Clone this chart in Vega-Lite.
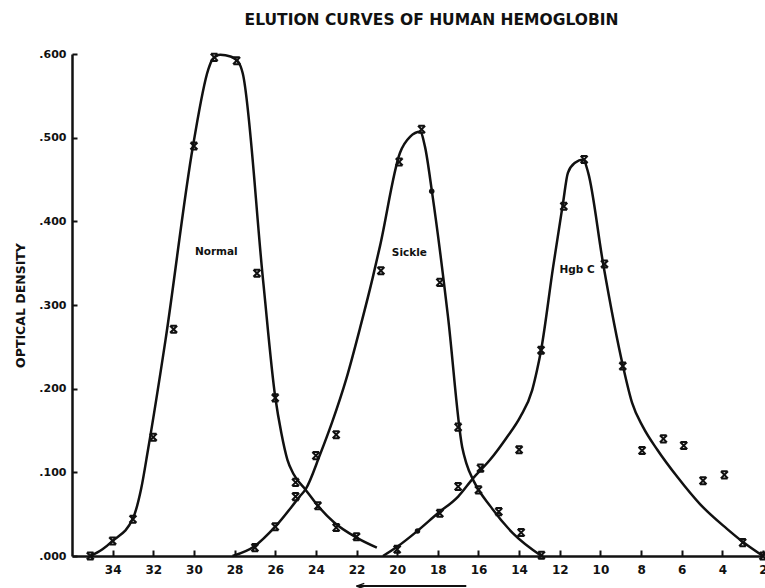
{
  "$schema": "https://vega.github.io/schema/vega-lite/v6.json",
  "width": 691,
  "height": 502,
  "autosize": {"type": "none"},
  "padding": {"left": 72, "top": 54, "right": 2, "bottom": 32},
  "background": "white",
  "config": {
    "view": {"stroke": null},
    "font": "DejaVu Sans",
    "axis": {"grid": false, "domainColor": "#111", "domainWidth": 2.5, "tickColor": "#111", "tickWidth": 2, "labelColor": "#111", "labelFont": "DejaVu Sans", "labelFontWeight": "bold", "titleFont": "DejaVu Sans", "titleFontWeight": "bold", "titleColor": "#111"}
  },
  "title": {"text": "ELUTION CURVES OF HUMAN HEMOGLOBIN", "fontSize": 15.5, "font": "DejaVu Sans", "fontWeight": "bold", "color": "#111", "offset": 20, "dx": 14},
  "datasets": {
    "curves": [
      {"series": "Normal", "x": 35.1, "y": 0},
      {"series": "Normal", "x": 34.5, "y": 0.008},
      {"series": "Normal", "x": 34, "y": 0.018},
      {"series": "Normal", "x": 33, "y": 0.045},
      {"series": "Normal", "x": 32.6, "y": 0.08},
      {"series": "Normal", "x": 32.26, "y": 0.127},
      {"series": "Normal", "x": 31.4, "y": 0.258},
      {"series": "Normal", "x": 30.04, "y": 0.491},
      {"series": "Normal", "x": 29.3, "y": 0.581},
      {"series": "Normal", "x": 29.1, "y": 0.593},
      {"series": "Normal", "x": 28.7, "y": 0.599},
      {"series": "Normal", "x": 28.2, "y": 0.597},
      {"series": "Normal", "x": 27.8, "y": 0.59},
      {"series": "Normal", "x": 27.6, "y": 0.577},
      {"series": "Normal", "x": 26.6, "y": 0.33},
      {"series": "Normal", "x": 26, "y": 0.19},
      {"series": "Normal", "x": 25.7, "y": 0.147},
      {"series": "Normal", "x": 25.4, "y": 0.115},
      {"series": "Normal", "x": 25.1, "y": 0.098},
      {"series": "Normal", "x": 24.5, "y": 0.079},
      {"series": "Normal", "x": 23.9, "y": 0.06},
      {"series": "Normal", "x": 23.1, "y": 0.04},
      {"series": "Normal", "x": 22, "y": 0.022},
      {"series": "Normal", "x": 21, "y": 0.01},
      {"series": "Sickle", "x": 28.1, "y": 0},
      {"series": "Sickle", "x": 27, "y": 0.012},
      {"series": "Sickle", "x": 26, "y": 0.035},
      {"series": "Sickle", "x": 24.8, "y": 0.071},
      {"series": "Sickle", "x": 24.5, "y": 0.08},
      {"series": "Sickle", "x": 23.8, "y": 0.121},
      {"series": "Sickle", "x": 23.2, "y": 0.16},
      {"series": "Sickle", "x": 22.5, "y": 0.212},
      {"series": "Sickle", "x": 21.8, "y": 0.275},
      {"series": "Sickle", "x": 21.2, "y": 0.333},
      {"series": "Sickle", "x": 20.84, "y": 0.371},
      {"series": "Sickle", "x": 19.86, "y": 0.482},
      {"series": "Sickle", "x": 19.37, "y": 0.501},
      {"series": "Sickle", "x": 18.87, "y": 0.507},
      {"series": "Sickle", "x": 18.63, "y": 0.489},
      {"series": "Sickle", "x": 18.28, "y": 0.434},
      {"series": "Sickle", "x": 17.5, "y": 0.286},
      {"series": "Sickle", "x": 16.8, "y": 0.13},
      {"series": "Sickle", "x": 16.6, "y": 0.111},
      {"series": "Sickle", "x": 16.2, "y": 0.088},
      {"series": "Sickle", "x": 15.4, "y": 0.059},
      {"series": "Sickle", "x": 14.3, "y": 0.027},
      {"series": "Sickle", "x": 12.9, "y": 0},
      {"series": "Hgb C", "x": 20.7, "y": 0},
      {"series": "Hgb C", "x": 20, "y": 0.011},
      {"series": "Hgb C", "x": 19, "y": 0.03},
      {"series": "Hgb C", "x": 18, "y": 0.051},
      {"series": "Hgb C", "x": 17, "y": 0.071},
      {"series": "Hgb C", "x": 16.26, "y": 0.093},
      {"series": "Hgb C", "x": 15.43, "y": 0.115},
      {"series": "Hgb C", "x": 14.6, "y": 0.142},
      {"series": "Hgb C", "x": 13.95, "y": 0.166},
      {"series": "Hgb C", "x": 13.36, "y": 0.198},
      {"series": "Hgb C", "x": 13.12, "y": 0.222},
      {"series": "Hgb C", "x": 12.92, "y": 0.246},
      {"series": "Hgb C", "x": 12.33, "y": 0.345},
      {"series": "Hgb C", "x": 11.84, "y": 0.422},
      {"series": "Hgb C", "x": 11.6, "y": 0.458},
      {"series": "Hgb C", "x": 11.25, "y": 0.47},
      {"series": "Hgb C", "x": 10.85, "y": 0.474},
      {"series": "Hgb C", "x": 10.6, "y": 0.458},
      {"series": "Hgb C", "x": 9.87, "y": 0.35},
      {"series": "Hgb C", "x": 8.88, "y": 0.226},
      {"series": "Hgb C", "x": 8.44, "y": 0.183},
      {"series": "Hgb C", "x": 7.9, "y": 0.154},
      {"series": "Hgb C", "x": 7.2, "y": 0.127},
      {"series": "Hgb C", "x": 6.2, "y": 0.094},
      {"series": "Hgb C", "x": 5.1, "y": 0.062},
      {"series": "Hgb C", "x": 3.8, "y": 0.033},
      {"series": "Hgb C", "x": 3, "y": 0.017},
      {"series": "Hgb C", "x": 2, "y": 0}
    ],
    "points": [
      {"series": "Normal", "x": 35.1, "y": 0, "kind": "x"},
      {"series": "Normal", "x": 34, "y": 0.018, "kind": "x"},
      {"series": "Normal", "x": 33, "y": 0.044, "kind": "x"},
      {"series": "Normal", "x": 32, "y": 0.142, "kind": "x"},
      {"series": "Normal", "x": 31, "y": 0.271, "kind": "x"},
      {"series": "Normal", "x": 30, "y": 0.49, "kind": "x"},
      {"series": "Normal", "x": 29, "y": 0.596, "kind": "x"},
      {"series": "Normal", "x": 27.9, "y": 0.592, "kind": "x"},
      {"series": "Normal", "x": 26.9, "y": 0.338, "kind": "x"},
      {"series": "Normal", "x": 26, "y": 0.189, "kind": "x"},
      {"series": "Normal", "x": 25, "y": 0.088, "kind": "x"},
      {"series": "Normal", "x": 23.9, "y": 0.06, "kind": "x"},
      {"series": "Normal", "x": 23, "y": 0.034, "kind": "x"},
      {"series": "Normal", "x": 22, "y": 0.023, "kind": "x"},
      {"series": "Sickle", "x": 27, "y": 0.01, "kind": "x"},
      {"series": "Sickle", "x": 26, "y": 0.035, "kind": "x"},
      {"series": "Sickle", "x": 25, "y": 0.071, "kind": "x"},
      {"series": "Sickle", "x": 24, "y": 0.12, "kind": "x"},
      {"series": "Sickle", "x": 23, "y": 0.145, "kind": "x"},
      {"series": "Sickle", "x": 20.8, "y": 0.341, "kind": "x"},
      {"series": "Sickle", "x": 19.9, "y": 0.471, "kind": "x"},
      {"series": "Sickle", "x": 18.8, "y": 0.51, "kind": "x"},
      {"series": "Sickle", "x": 18.3, "y": 0.436, "kind": "dot"},
      {"series": "Sickle", "x": 17.9, "y": 0.327, "kind": "x"},
      {"series": "Sickle", "x": 17, "y": 0.154, "kind": "x"},
      {"series": "Sickle", "x": 16, "y": 0.079, "kind": "x"},
      {"series": "Sickle", "x": 15, "y": 0.053, "kind": "x"},
      {"series": "Sickle", "x": 13.9, "y": 0.028, "kind": "x"},
      {"series": "Sickle", "x": 12.9, "y": 0.001, "kind": "x"},
      {"series": "Hgb C", "x": 20, "y": 0.008, "kind": "x"},
      {"series": "Hgb C", "x": 19, "y": 0.03, "kind": "dot"},
      {"series": "Hgb C", "x": 17.9, "y": 0.051, "kind": "x"},
      {"series": "Hgb C", "x": 17, "y": 0.083, "kind": "x"},
      {"series": "Hgb C", "x": 15.9, "y": 0.105, "kind": "x"},
      {"series": "Hgb C", "x": 14, "y": 0.127, "kind": "x"},
      {"series": "Hgb C", "x": 12.92, "y": 0.246, "kind": "x"},
      {"series": "Hgb C", "x": 11.8, "y": 0.418, "kind": "x"},
      {"series": "Hgb C", "x": 10.8, "y": 0.474, "kind": "x"},
      {"series": "Hgb C", "x": 9.8, "y": 0.349, "kind": "x"},
      {"series": "Hgb C", "x": 8.9, "y": 0.227, "kind": "x"},
      {"series": "Hgb C", "x": 7.95, "y": 0.126, "kind": "x"},
      {"series": "Hgb C", "x": 6.9, "y": 0.14, "kind": "x"},
      {"series": "Hgb C", "x": 5.9, "y": 0.132, "kind": "x"},
      {"series": "Hgb C", "x": 4.95, "y": 0.09, "kind": "x"},
      {"series": "Hgb C", "x": 3.9, "y": 0.097, "kind": "x"},
      {"series": "Hgb C", "x": 3, "y": 0.016, "kind": "x"},
      {"series": "Hgb C", "x": 2, "y": 0, "kind": "x"}
    ],
    "labels": [
      {"label": "Normal", "x": 28.9, "y": 0.363},
      {"label": "Sickle", "x": 19.4, "y": 0.362},
      {"label": "Hgb C", "x": 11.15, "y": 0.342}
    ],
    "arrow": [
      {"x": 22, "x2": 16.6, "y": -0.036}
    ]
  },
  "layer": [
    {
      "data": {"name": "curves"},
      "mark": {"type": "line", "color": "#111", "strokeWidth": 2.5, "interpolate": "monotone"},
      "encoding": {
        "x": {"field": "x", "type": "quantitative", "scale": {"domain": [36, 2], "nice": false, "zero": false},
          "axis": {"title": null, "values": [34, 32, 30, 28, 26, 24, 22, 20, 18, 16, 14, 12, 10, 8, 6, 4, 2], "tickSize": -6, "labelPadding": 14, "labelFontSize": 12, "labelFlush": false, "labelOverlap": false, "domainWidth": 2.5}},
        "y": {"field": "y", "type": "quantitative", "scale": {"domain": [0, 0.6], "nice": false},
          "axis": {"title": "OPTICAL DENSITY", "titleFontSize": 12.5, "titlePadding": 11, "values": [0, 0.1, 0.2, 0.3, 0.4, 0.5, 0.6], "labelExpr": "replace(format(datum.value, '.3f'), '0.', '.')", "tickSize": -5, "labelPadding": 11, "labelFontSize": 11}},
        "detail": {"field": "series"}
      }
    },
    {
      "data": {"name": "points"},
      "transform": [{"filter": "datum.kind == 'x'"}],
      "mark": {"type": "point", "shape": "M-1,-1L1,1M1,-1L-1,1M-0.9,-1L0.9,-1M-0.9,1L0.9,1", "size": 50, "filled": false, "stroke": "#111", "strokeWidth": 2, "opacity": 1},
      "encoding": {
        "x": {"field": "x", "type": "quantitative"},
        "y": {"field": "y", "type": "quantitative"}
      }
    },
    {
      "data": {"name": "points"},
      "transform": [{"filter": "datum.kind == 'dot'"}],
      "mark": {"type": "point", "shape": "circle", "size": 30, "filled": true, "color": "#111", "opacity": 1},
      "encoding": {
        "x": {"field": "x", "type": "quantitative"},
        "y": {"field": "y", "type": "quantitative"}
      }
    },
    {
      "data": {"name": "labels"},
      "mark": {"type": "text", "font": "DejaVu Sans", "fontWeight": "bold", "fontSize": 10.5, "color": "#111"},
      "encoding": {
        "x": {"field": "x", "type": "quantitative"},
        "y": {"field": "y", "type": "quantitative"},
        "text": {"field": "label"}
      }
    },
    {
      "data": {"name": "arrow"},
      "mark": {"type": "rule", "color": "#111", "strokeWidth": 2},
      "encoding": {
        "x": {"field": "x", "type": "quantitative"},
        "x2": {"field": "x2"},
        "y": {"field": "y", "type": "quantitative"}
      }
    },
    {
      "data": {"name": "arrow"},
      "mark": {"type": "point", "shape": "M0,0L2,-0.7M0,0L2,0.7", "size": 60, "filled": false, "stroke": "#111", "strokeWidth": 1.5, "opacity": 1},
      "encoding": {
        "x": {"field": "x", "type": "quantitative"},
        "y": {"field": "y", "type": "quantitative"}
      }
    }
  ]
}
